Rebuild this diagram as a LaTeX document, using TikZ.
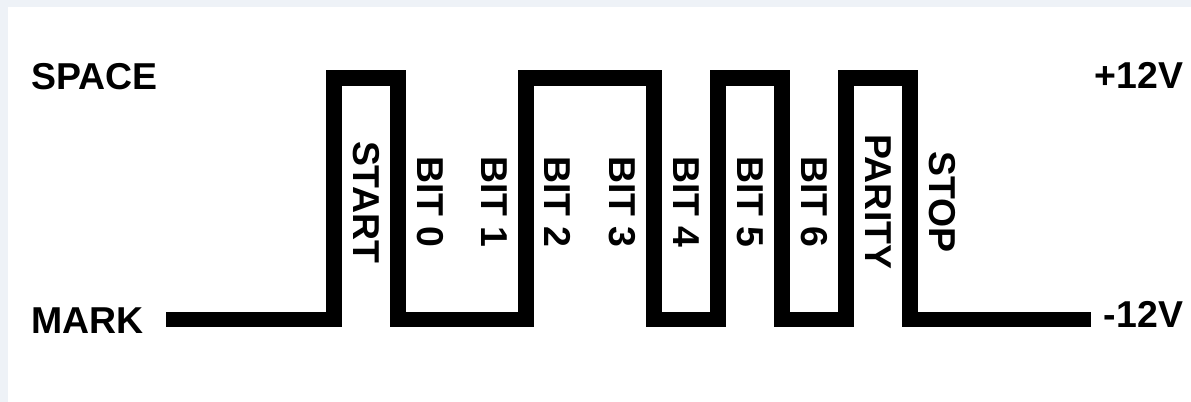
\documentclass[tikz,border=0pt]{standalone}
\usepackage{fontspec}
\setmainfont{Liberation Sans}
\usepackage{xcolor}
\usepackage{tikz}
\usetikzlibrary{positioning}
\definecolor{frameband}{HTML}{EEF2F7}
\definecolor{ink}{HTML}{000000}
\tikzset{
    every picture/.style={line cap=butt,line join=miter},
    signal/.style={draw=ink,line width=9.1pt},
    levellabel/.style={inner sep=0pt,outer sep=0pt,text=ink,
      font=\fontsize{21.3}{24}\selectfont\bfseries},
    bitlabel/.style={levellabel,rotate=-90,anchor=center}
}
\begin{document}
\begin{tikzpicture}[x=0.02cm,y=-0.02cm]
  \useasboundingbox (0,0) rectangle (1191,402);
  \fill[white] (0,0) rectangle (1191,402);
  \fill[frameband] (0,0) rectangle (1191,7);
  \fill[frameband] (0,0) rectangle (8,402);
  % the two levels
  \coordinate (lowstart) at (166,319.5);
  \coordinate (lowend) at (1091,319.5);
  \node[levellabel,anchor=base west] (space) at (31.7,89.3) {SPACE};
  \node[levellabel,anchor=base west] (mark) at (31.7,333.3) {MARK};
  \node[levellabel,anchor=base east] (plus) at (1183,89) {+12V};
  \node[levellabel,anchor=base east] (minus) at (1183,327.3) {-12V};
  % waveform of one frame
  \draw[signal] (lowstart) -- (334,319.5) -- (334,78) -- (398,78)
    -- (398,319.5) -- (526,319.5) -- (526,78) -- (654,78)
    -- (654,319.5) -- (718,319.5) -- (718,78) -- (782,78)
    -- (782,319.5) -- (846,319.5) -- (846,78) -- (910,78)
    -- (910,319.5) -- (lowend);
  % names of the bit slots
  \foreach \name/\slot in {START/0,BIT 0/1,BIT 1/2,BIT 2/3,BIT 3/4,
      BIT 4/5,BIT 5/6,BIT 6/7,PARITY/8,STOP/9}
    \node[bitlabel] (slot\slot) at ({366+64*\slot},202) {\name};
\end{tikzpicture}
\end{document}
